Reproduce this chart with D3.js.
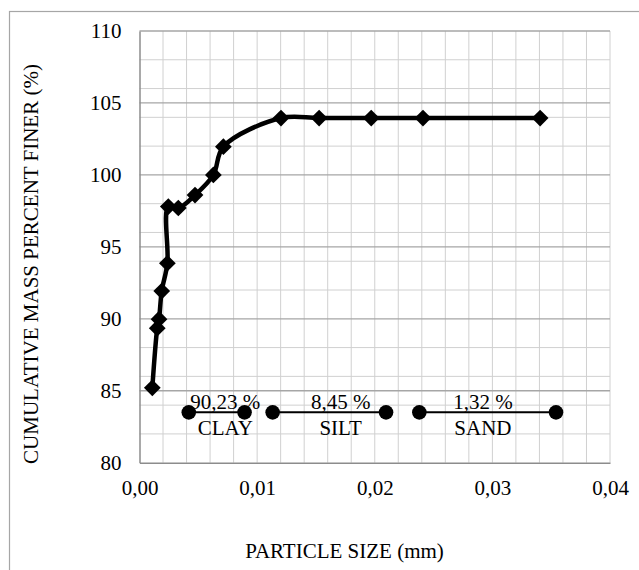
<!DOCTYPE html>
<html>
<head>
<meta charset="utf-8">
<script src="https://cdn.jsdelivr.net/npm/d3@7"></script>
<style>
  body { margin: 0; background: #fff; }
</style>
</head>
<body>
<svg id="chart" width="639" height="570"></svg>
<script>
var FONT = "'Liberation Serif', 'Times New Roman', Times, serif";
var FS = "21px";

// grain size curve (mm, % finer)
var sizes = [0.00109, 0.00151, 0.00166, 0.00189, 0.00237, 0.00245, 0.0033, 0.00472,
             0.00628, 0.00713, 0.01203, 0.01527, 0.0197, 0.0241, 0.03406];
var finer = [85.2, 89.35, 89.97, 91.93, 93.86, 97.8, 97.7, 98.6,
             100.0, 101.96, 103.95, 103.95, 103.95, 103.95, 103.95];

// soil class bands
var classNames = ["CLAY", "SILT", "SAND"];
var classPercents = ["90,23 %", "8,45 %", "1,32 %"];
var classStart = [0.00419, 0.01132, 0.02379];
var classEnd = [0.00893, 0.02096, 0.03541];
var classLabelX = [0.0073, 0.0171, 0.0292];
var classLevel = 83.5;

var xTicks = [0, 0.01, 0.02, 0.03, 0.04];
var yTicks = [80, 85, 90, 95, 100, 105, 110];

var svg = d3.select("#chart");
var fmt = d3.formatLocale({decimal: ",", thousands: ".", grouping: [3], currency: ["", ""]}).format(".2f");

var x = d3.scaleLinear().domain([0, 0.04]).range([139.5, 610]);
var y = d3.scaleLinear().domain([80, 110]).range([462.7, 31]);

// outer chart border
svg.append("rect")
    .attr("x", 9.5).attr("y", 11.5)
    .attr("width", 700).attr("height", 700)
    .attr("fill", "none").attr("stroke", "#a6a6a6").attr("stroke-width", 1.2);

var grid = svg.append("g");
// minor gridlines
grid.selectAll("line.vx")
    .data(d3.range(1, 21).map(function(i) { return i * 0.002; }))
    .enter().append("line")
    .attr("x1", function(d) { return x(d); }).attr("x2", function(d) { return x(d); })
    .attr("y1", y(80)).attr("y2", y(110))
    .attr("stroke", "#d0d0d0").attr("stroke-width", 1);

grid.selectAll("line.hy")
    .data(d3.range(41, 55).map(function(i) { return i * 2; }).filter(function(d) { return d % 5 != 0; }))
    .enter().append("line")
    .attr("x1", x(0)).attr("x2", x(0.04))
    .attr("y1", function(d) { return y(d); }).attr("y2", function(d) { return y(d); })
    .attr("stroke", "#d0d0d0").attr("stroke-width", 1);

// major gridlines
grid.selectAll("line.my")
    .data(yTicks.slice(1))
    .enter().append("line")
    .attr("x1", x(0)).attr("x2", x(0.04))
    .attr("y1", function(d) { return y(d); }).attr("y2", function(d) { return y(d); })
    .attr("stroke", "#a6a6a6").attr("stroke-width", 1.3);

// axes
var yAxis = svg.append("g")
    .attr("transform", "translate(" + x(0) + ",0)")
    .call(d3.axisLeft(y).tickValues(yTicks).tickSize(0).tickPadding(18));
var xAxis = svg.append("g")
    .attr("transform", "translate(0," + y(80) + ")")
    .call(d3.axisBottom(x).tickValues(xTicks).tickSize(0).tickPadding(17).tickFormat(fmt));

[xAxis, yAxis].forEach(function(a) {
    a.attr("font-family", null).attr("font-size", null);
    a.select(".domain").attr("stroke", "#8c8c8c").attr("stroke-width", 1.5);
    a.selectAll("text").style("font-size", FS).style("font-family", FONT).attr("fill", "#000");
});

// titles
svg.append("text")
    .attr("x", 344.5).attr("y", 558)
    .attr("text-anchor", "middle")
    .style("font-size", FS).style("font-family", FONT)
    .text("PARTICLE SIZE (mm)");

svg.append("text")
    .attr("transform", "translate(37.5,264) rotate(-90)")
    .attr("text-anchor", "middle")
    .style("font-size", FS).style("font-family", FONT)
    .text("CUMULATIVE MASS PERCENT FINER (%)");

// class bands
var bands = classNames.map(function(n, i) {
    return {name: n, pct: classPercents[i], a: classStart[i], b: classEnd[i], lx: classLabelX[i]};
});
var band = svg.selectAll("g.band").data(bands).enter().append("g");
band.append("line")
    .attr("x1", function(d) { return x(d.a); }).attr("x2", function(d) { return x(d.b); })
    .attr("y1", y(classLevel)).attr("y2", y(classLevel))
    .attr("stroke", "#000").attr("stroke-width", 2);
band.selectAll("circle")
    .data(function(d) { return [d.a, d.b]; })
    .enter().append("circle")
    .attr("cx", function(d) { return x(d); })
    .attr("cy", y(classLevel))
    .attr("r", 7.3)
    .attr("fill", "#000");
band.append("text")
    .attr("x", function(d) { return x(d.lx); })
    .attr("y", y(classLevel) - 3.5)
    .attr("text-anchor", "middle")
    .style("font-size", FS).style("font-family", FONT)
    .text(function(d) { return d.pct; });
band.append("text")
    .attr("x", function(d) { return x(d.lx); })
    .attr("y", y(classLevel) + 23)
    .attr("text-anchor", "middle")
    .style("font-size", FS).style("font-family", FONT)
    .text(function(d) { return d.name; });

// grading curve
var pts = sizes.map(function(s, i) { return [s, finer[i]]; });
var line = d3.line()
    .x(function(d) { return x(d[0]); })
    .y(function(d) { return y(d[1]); })
    .curve(d3.curveCatmullRom.alpha(0.5));

svg.append("path")
    .datum(pts)
    .attr("d", line)
    .attr("fill", "none")
    .attr("stroke", "#000")
    .attr("stroke-width", 4.5)
    .attr("stroke-linejoin", "round");

var diamond = d3.symbol().type(d3.symbolSquare).size(140);
svg.selectAll("path.pt")
    .data(pts)
    .enter().append("path")
    .attr("d", diamond)
    .attr("transform", function(d) {
        return "translate(" + x(d[0]) + "," + y(d[1]) + ") rotate(45)";
    })
    .attr("fill", "#000");
</script>
</body>
</html>
